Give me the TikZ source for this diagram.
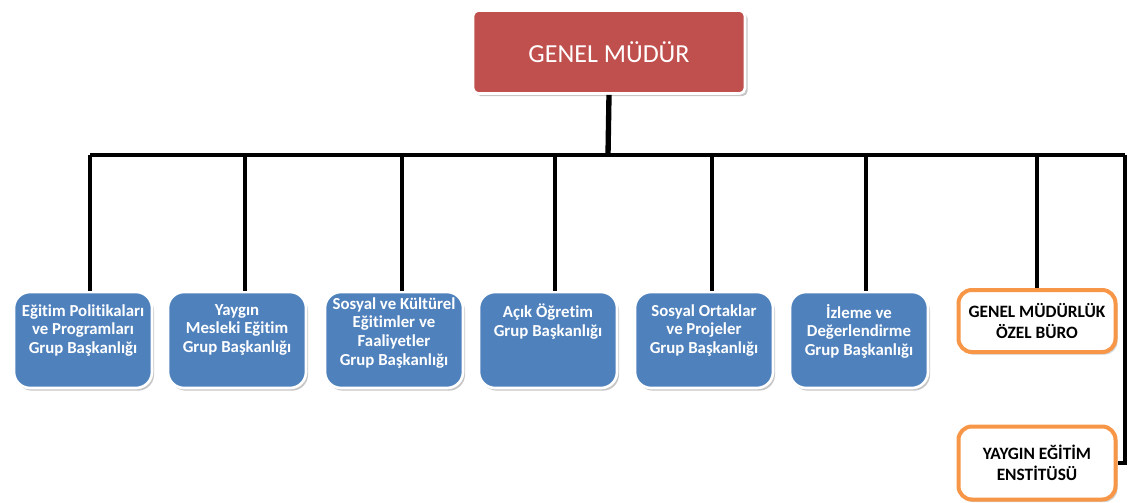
\documentclass[tikz,border=0pt]{standalone}
\usepackage{fontspec}
\setmainfont{Carlito}[Ligatures=NoCommon]
\usepackage{tikz}
\usetikzlibrary{positioning, shadows}

\definecolor{boxblue}{HTML}{4F81BD}
\definecolor{boxred}{HTML}{C0504D}
\definecolor{boxorange}{HTML}{F79646}

\begin{document}
\begin{tikzpicture}[x=0.75pt, y=-0.75pt,
    head/.style={rectangle, rounded corners=4pt, fill=boxred, draw=white, line width=2pt,
        minimum width=272*0.75pt, minimum height=83*0.75pt, text=white,
        font=\fontsize{19.5}{22}\selectfont, drop shadow={opacity=0.45, shadow xshift=2pt, shadow yshift=-2pt}},
    unit/.style={rectangle, rounded corners=12pt, fill=boxblue, draw=white, line width=2pt,
        minimum width=138*0.75pt, minimum height=96*0.75pt,
        drop shadow={opacity=0.45, shadow xshift=1.5pt, shadow yshift=-2pt}},
    unittext/.style={anchor=north, inner sep=0pt, align=center, text=white,
        font=\fontsize{12.6}{14}\bfseries\selectfont},
    office/.style={rectangle, rounded corners=10pt, fill=white, draw=boxorange, line width=3pt,
        minimum width=157*0.75pt, align=center,
        font=\fontsize{13}{16}\bfseries\selectfont,
        drop shadow={opacity=0.35, shadow xshift=1.5pt, shadow yshift=-2pt}},
    bus/.style={line width=2.6pt},
]
\useasboundingbox (0,0) rectangle (1128,503);

% genel mudur
\node[head] (gm) at (609,52) {GENEL MÜDÜR};

% junctions on the bus
\coordinate (hub) at (608,155);
\coordinate (j1) at (90,155);
\coordinate (j2) at (245,155);
\coordinate (j3) at (402,155);
\coordinate (j4) at (555,155);
\coordinate (j5) at (712,155);
\coordinate (j6) at (866,155);
\coordinate (j7) at (1037,155);
\coordinate (j8) at (1125,155);

% grup baskanliklari
\node[unit] (b1) at (83,340) {};
\node[unit] (b2) at (237,340) {};
\node[unit] (b3) at (394,340) {};
\node[unit] (b4) at (548,340) {};
\node[unit] (b5) at (704,340) {};
\node[unit] (b6) at (859,340) {};

\node[unittext] (t1) at (83,304) {Eğitim Politikaları\\ve Programları\\Grup Başkanlığı};
\node[unittext] (t2) at (237,304) {Yaygın\\Mesleki Eğitim\\Grup Başkanlığı};
\node[unittext] (t3) at (394,297) {Sosyal ve Kültürel\\Eğitimler ve\\Faaliyetler\\Grup Başkanlığı};
\node[unittext] (t4) at (548,304) {Açık Öğretim\\Grup Başkanlığı};
\node[unittext] (t5) at (704,304) {Sosyal Ortaklar\\ve Projeler\\Grup Başkanlığı};
\node[unittext] (t6) at (859,304) {İzleme ve\\Değerlendirme\\Grup Başkanlığı};

% buro ve enstitu
\node[office, minimum height=62*0.75pt] (o1) at (1037,321) {GENEL MÜDÜRLÜK\\ÖZEL BÜRO};
\node[office, minimum height=73*0.75pt] (o2) at (1037,463) {YAYGIN EĞİTİM\\ENSTİTÜSÜ};

% lines
\draw[line width=4pt] (gm.south) -- (hub);
\draw[bus] (j1) -- (j8);
\draw[bus] (j1) -- (j1 |- b1.north);
\draw[bus] (j2) -- (j2 |- b2.north);
\draw[bus] (j3) -- (j3 |- b3.north);
\draw[bus] (j4) -- (j4 |- b4.north);
\draw[bus] (j5) -- (j5 |- b5.north);
\draw[bus] (j6) -- (j6 |- b6.north);
\draw[bus] (j7) -- (o1.north);
\draw[bus] (j8) -- (j8 |- o2.east) -- (o2.east);
\end{tikzpicture}
\end{document}
